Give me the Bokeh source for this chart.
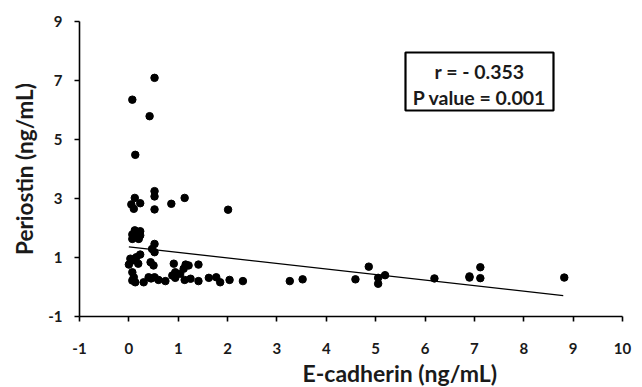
from bokeh.plotting import figure
from bokeh.models import Range1d, FixedTicker, Label, BoxAnnotation, Title
from bokeh.embed import file_html
from bokeh.resources import INLINE

# E-cadherin (x) vs Periostin (y), ng/mL
ecad = [0.52, 0.07, 0.42, 0.13,
        0.52, 0.52, 0.12, 1.13, 0.23, 0.05, 0.86, 0.10, 0.52, 2.01,
        0.12, 0.23, 0.17, 0.07, 0.23, 0.07, 0.20, 0.52, 0.47, 0.52,
        0.23, 0.15, 0.07, 0.03, 0.00, 0.19, 0.44, 0.50, 0.91, 1.15, 1.21, 1.11, 1.41,
        0.07, 0.94, 1.04, 0.88,
        0.10, 0.07, 0.13, 0.30, 0.40, 0.52, 0.45, 0.60, 0.74, 0.94, 1.13, 1.25, 1.41,
        1.62, 1.77, 1.85, 2.04, 2.31,
        3.26, 3.52, 4.59, 4.86, 5.05, 5.05, 5.19, 6.19, 6.90, 6.90, 7.12, 7.12, 8.82]
periostin = [7.09, 6.35, 5.79, 4.48,
             3.25, 3.07, 3.02, 3.02, 2.84, 2.80, 2.82, 2.65, 2.63, 2.62,
             1.92, 1.89, 1.86, 1.78, 1.75, 1.63, 1.63, 1.46, 1.29, 1.18,
             1.10, 1.01, 0.90, 0.96, 0.76, 0.79, 0.84, 0.73, 0.79, 0.76, 0.73, 0.62, 0.76,
             0.50, 0.50, 0.45, 0.39,
             0.33, 0.22, 0.16, 0.16, 0.33, 0.33, 0.29, 0.24, 0.20, 0.31, 0.24, 0.28, 0.20,
             0.31, 0.33, 0.16, 0.24, 0.20,
             0.20, 0.26, 0.26, 0.69, 0.31, 0.11, 0.40, 0.29, 0.32, 0.36, 0.67, 0.30, 0.32]

# regression trend line end points
trend_x = [0.0, 8.8]
trend_y = [1.36, -0.29]

x_ticks = [-1, 0, 1, 2, 3, 4, 5, 6, 7, 8, 9, 10]
y_ticks = [-1, 1, 3, 5, 7, 9]
x_tick_labels = ["-1", "0", "1", "2", "3", "4", "5", "6", "7", "8", "9", "10"]
y_tick_labels = ["-1", "1", "3", "5", "7", "9"]

stat_lines = ["r = - 0.353", "P value = 0.001"]

FONT = "Lato"
TXT = "#1a1a1a"

p = figure(width=642, height=387, x_range=Range1d(-1, 10), y_range=Range1d(-1, 9),
           output_backend="svg", toolbar_location=None,
           min_border_left=79, min_border_right=20, min_border_top=21, min_border_bottom=71)
p.outline_line_color = None
p.xgrid.visible = False
p.ygrid.visible = False
p.background_fill_color = "white"
p.border_fill_color = "white"

for ax in (p.xaxis[0], p.yaxis[0]):
    ax.axis_line_color = "black"
    ax.axis_line_width = 1.6
    ax.major_tick_line_color = "black"
    ax.major_tick_line_width = 1.6
    ax.major_tick_out = 5
    ax.major_tick_in = 0
    ax.minor_tick_line_color = None
    ax.major_label_text_font = FONT
    ax.major_label_text_font_style = "bold"
    ax.major_label_text_font_size = "15px"
    ax.major_label_text_color = TXT

p.xaxis[0].ticker = FixedTicker(ticks=x_ticks)
p.yaxis[0].ticker = FixedTicker(ticks=y_ticks)
p.xaxis[0].major_label_overrides = {t: s for t, s in zip(x_ticks, x_tick_labels)}
p.yaxis[0].major_label_overrides = {t: s for t, s in zip(y_ticks, y_tick_labels)}
p.xaxis[0].major_label_standoff = 21
p.yaxis[0].major_label_standoff = 12

p.yaxis[0].axis_label = "Periostin (ng/mL)"
p.yaxis[0].axis_label_text_font = FONT
p.yaxis[0].axis_label_text_font_style = "bold"
p.yaxis[0].axis_label_text_font_size = "22.5px"
p.yaxis[0].axis_label_text_color = TXT
p.yaxis[0].axis_label_standoff = 7

xt = Title(text="E-cadherin (ng/mL)", align="left", offset=223,
           text_font=FONT, text_font_style="bold", text_font_size="23px",
           text_color=TXT, standoff=0)
p.add_layout(xt, "below")

p.line(trend_x, trend_y, line_color="black", line_width=1.3)
p.scatter(ecad, periostin, size=7.5, fill_color="black", line_color="black")

# stats box
p.add_layout(BoxAnnotation(left=326, right=474, top=264, bottom=206,
                           left_units="screen", right_units="screen",
                           top_units="screen", bottom_units="screen",
                           fill_color="white", fill_alpha=1.0,
                           line_color="black", line_alpha=1.0, line_width=2.2))
p.add_layout(Label(x=400, y=245, x_units="screen", y_units="screen", text=stat_lines[0],
                   text_font=FONT, text_font_style="bold", text_font_size="19.5px",
                   text_color=TXT, text_align="center", text_baseline="middle"))
p.add_layout(Label(x=400, y=219, x_units="screen", y_units="screen", text=stat_lines[1],
                   text_font=FONT, text_font_style="bold", text_font_size="19.5px",
                   text_color=TXT, text_align="center", text_baseline="middle"))

open("out.html", "w").write(file_html(p, INLINE))
